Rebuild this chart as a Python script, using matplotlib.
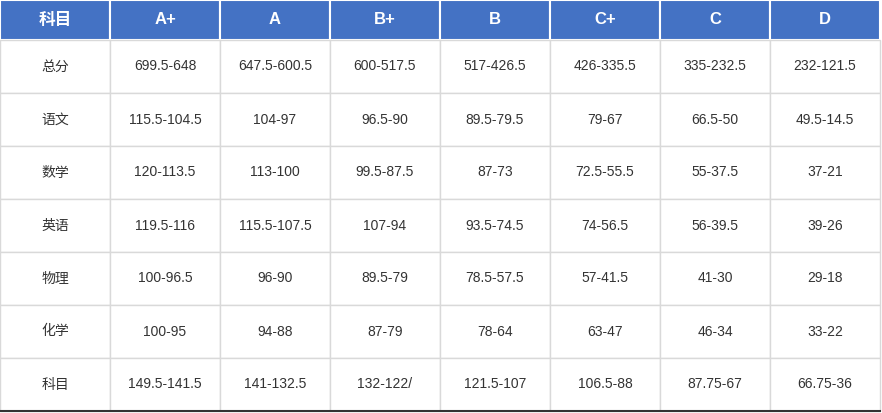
import matplotlib.pyplot as plt
from matplotlib.patches import Rectangle

plt.rcParams['font.family'] = ['Liberation Sans', 'Noto Sans CJK SC']

header = ["科目", "A+", "A", "B+", "B", "C+", "C", "D"]
subjects = ["总分", "语文", "数学", "英语", "物理", "化学", "科目"]
ranges = [
    ["699.5-648", "647.5-600.5", "600-517.5", "517-426.5", "426-335.5", "335-232.5", "232-121.5"],
    ["115.5-104.5", "104-97", "96.5-90", "89.5-79.5", "79-67", "66.5-50", "49.5-14.5"],
    ["120-113.5", "113-100", "99.5-87.5", "87-73", "72.5-55.5", "55-37.5", "37-21"],
    ["119.5-116", "115.5-107.5", "107-94", "93.5-74.5", "74-56.5", "56-39.5", "39-26"],
    ["100-96.5", "96-90", "89.5-79", "78.5-57.5", "57-41.5", "41-30", "29-18"],
    ["100-95", "94-88", "87-79", "78-64", "63-47", "46-34", "33-22"],
    ["149.5-141.5", "141-132.5", "132-122/", "121.5-107", "106.5-88", "87.75-67", "66.75-36"],
]

W, H = 882, 413
col_w = 110
head_h = 40
row_h = 53

fig = plt.figure(figsize=(W / 100, H / 100), dpi=100)
ax = fig.add_axes([0, 0, 1, 1])
ax.set_xlim(0, W)
ax.set_ylim(H, 0)
ax.axis('off')

# header
for j, name in enumerate(header):
    x = j * col_w
    ax.add_patch(Rectangle((x, 0), col_w, head_h, facecolor='#4472c4',
                           edgecolor='white', lw=1.5))
    ax.text(x + col_w / 2, head_h / 2, name, color='white', fontsize=12,
            fontweight='bold', ha='center', va='center')

# body
for i, subj in enumerate(subjects):
    y = head_h + i * row_h
    cells = [subj] + ranges[i]
    for j, val in enumerate(cells):
        x = j * col_w
        ax.add_patch(Rectangle((x, y), col_w, row_h, facecolor='white',
                               edgecolor='#d9d9d9', lw=1))
        ax.text(x + col_w / 2, y + row_h / 2, val, color='#333333',
                fontsize=10, ha='center', va='center')

bottom = head_h + len(subjects) * row_h
ax.plot([0, len(header) * col_w], [bottom, bottom], color='#333333', lw=1.5)

fig.savefig('out.png', dpi=100)
